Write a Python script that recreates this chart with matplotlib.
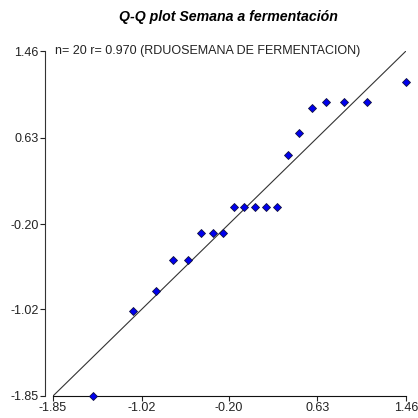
import matplotlib
matplotlib.use("Agg")
import matplotlib.pyplot as plt

# cuantiles teoricos (x) y residuos ordenados (y)
teoricos = [-1.475, -1.10, -0.884, -0.725, -0.584, -0.462, -0.35, -0.256,
            -0.153, -0.059, 0.044, 0.147, 0.25, 0.354, 0.457, 0.579,
            0.71, 0.879, 1.094, 1.46]
observados = [-1.85, -1.035, -0.843, -0.545, -0.545, -0.286, -0.286, -0.286,
              -0.037, -0.037, -0.037, -0.037, -0.037, 0.462, 0.673, 0.913,
              0.971, 0.971, 0.971, 1.163]
ticks = [-1.85, -1.02, -0.20, 0.63, 1.46]
etiquetas = ["-1.85", "-1.02", "-0.20", "0.63", "1.46"]

plt.rcParams['font.family'] = ['Liberation Sans', 'DejaVu Sans']

fig = plt.figure(figsize=(4.18, 4.18), dpi=100)
ax = fig.add_axes([53/418, 22/418, 353/418, 345/418])

# recta de referencia y = x
ax.plot([ticks[0], ticks[-1]], [ticks[0], ticks[-1]], color='#333333', lw=0.8)
ax.plot(teoricos, observados, linestyle='none', marker='D', markersize=4.2,
        markerfacecolor='#0000ee', markeredgecolor='#101040', markeredgewidth=0.6,
        clip_on=False, zorder=3)

ax.set_xlim(ticks[0], ticks[-1])
ax.set_ylim(ticks[0], ticks[-1])
ax.set_xticks(ticks)
ax.set_xticklabels(etiquetas)
ax.set_yticks(ticks)
ax.set_yticklabels(etiquetas)

ax.spines['top'].set_visible(False)
ax.spines['right'].set_visible(False)
ax.spines['left'].set_position(('outward', 6))
ax.spines['left'].set_color('#333333')
ax.spines['bottom'].set_color('#111111')
ax.tick_params(length=3.5, width=0.8, labelsize=9, colors='#222222', pad=1)

ax.text(0.006, 1.0, "n= 20 r= 0.970 (RDUOSEMANA DE FERMENTACION)",
        transform=ax.transAxes, ha='left', va='center', fontsize=9, color='#222222')

fig.text(228/418, 1 - 17/418, "Q-Q plot Semana a fermentación", ha='center', va='center',
         fontsize=10.2, fontweight='bold', fontstyle='italic')

fig.savefig("out.png", dpi=100)
